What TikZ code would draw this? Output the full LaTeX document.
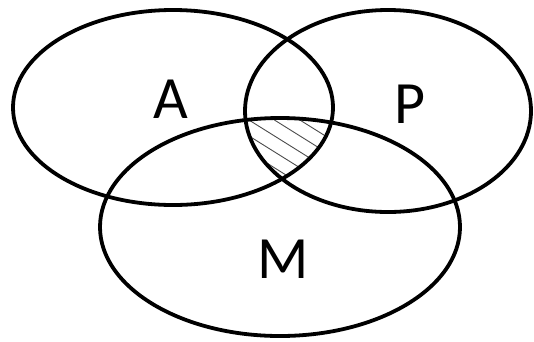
\documentclass[tikz,border=0pt]{standalone}
\usepackage{fontspec}
\setmainfont{Carlito}
\usetikzlibrary{calc}
\begin{document}
\begin{tikzpicture}[x=1pt,y=-1pt,
  setline/.style={line width=3.8pt,black},
  hatchline/.style={line width=0.9pt,black!70},
  setlabel/.style={inner sep=0pt,anchor=base,font=\fontsize{60}{60}\selectfont}]
\useasboundingbox (0,0) rectangle (534,341);
\coordinate (cA) at (173,107.5);
\coordinate (cP) at (388,111);
\coordinate (cM) at (280,227);
\begin{scope}
  \clip (cA) ellipse [x radius=160, y radius=97.5];
  \clip (cP) ellipse [x radius=143, y radius=101];
  \clip (cM) ellipse [x radius=180, y radius=109];
  \foreach \k in {-2,...,4} {
    \coordinate (h0) at ($(271.7,118.3)+\k*13.5*(-0.53,0.848)$);
    \draw[hatchline] ($(h0)-80*(0.848,0.53)$) -- ($(h0)+80*(0.848,0.53)$);
  }
\end{scope}
\draw[setline] (cA) ellipse [x radius=160, y radius=97.5];
\draw[setline] (cP) ellipse [x radius=143, y radius=101];
\draw[setline] (cM) ellipse [x radius=180, y radius=109];
\node[setlabel] (lA) at (171,118) {A};
\node[setlabel] (lP) at (410,123) {P};
\node[setlabel] (lM) at (283,278) {M};
\end{tikzpicture}
\end{document}
